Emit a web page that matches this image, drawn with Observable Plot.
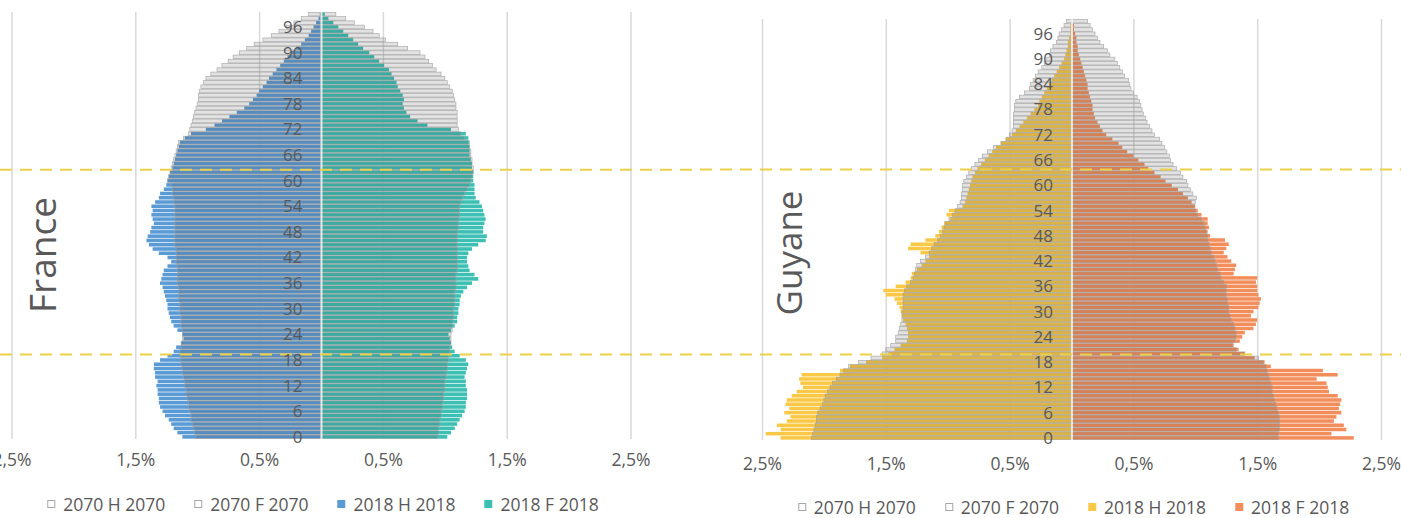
<!DOCTYPE html>
<html><head><meta charset="utf-8">
<script src="https://cdn.jsdelivr.net/npm/d3@7"></script>
<script src="https://cdn.jsdelivr.net/npm/@observablehq/plot@0.6"></script>
<style>
body{margin:0;background:#fff;width:1401px;height:518px;overflow:hidden;position:relative;font-family:"Open Sans",sans-serif;}
.panel{position:absolute;top:0;}
.legend{position:absolute;display:flex;gap:29px;transform:translateX(-50%);white-space:nowrap;font-size:17.5px;color:#595959;align-items:center;line-height:1.05;}
.legend .it{display:flex;align-items:center;gap:8px;}
.legend .sw{width:8px;height:8px;box-sizing:border-box;}
</style></head><body>
<div id="fr" class="panel" style="left:0;width:700px"></div>
<div id="gy" class="panel" style="left:700px;width:701px"></div>
<script>
// ---- data (share of population, %, by single year of age 0..99) ----
const ages = d3.range(0, 100);
const ageTicks = [0, 6, 12, 18, 24, 30, 36, 42, 48, 54, 60, 66, 72, 78, 84, 90, 96];
const xTicks = [-2.5, -1.5, -0.5, 0.5, 1.5, 2.5];
const legendLabels = ["2070 H 2070", "2070 F 2070", "2018 H 2018", "2018 F 2018"];

const franceH2018 = [
1.12,1.16,1.19,1.21,1.23,1.26,1.28,1.30,1.31,1.31,
1.32,1.32,1.33,1.32,1.34,1.34,1.35,1.35,1.30,1.24,
1.19,1.17,1.13,1.11,1.12,1.16,1.19,1.21,1.22,1.23,
1.24,1.24,1.25,1.26,1.27,1.28,1.30,1.29,1.28,1.27,
1.24,1.21,1.24,1.31,1.36,1.39,1.41,1.40,1.38,1.37,
1.35,1.36,1.37,1.36,1.37,1.34,1.31,1.30,1.27,1.25,
1.24,1.23,1.22,1.20,1.19,1.18,1.17,1.16,1.15,1.14,
1.10,1.05,0.93,0.86,0.80,0.74,0.68,0.62,0.58,0.55,
0.52,0.50,0.47,0.44,0.42,0.39,0.36,0.33,0.30,0.27,
0.24,0.20,0.16,0.13,0.10,0.08,0.06,0.04,0.02,0.01];
const franceH2070 = [
1.01,1.02,1.03,1.04,1.05,1.05,1.06,1.07,1.07,1.08,
1.09,1.09,1.10,1.10,1.11,1.12,1.12,1.13,1.13,1.14,
1.14,1.13,1.13,1.12,1.12,1.12,1.13,1.13,1.13,1.14,
1.14,1.14,1.15,1.15,1.15,1.15,1.16,1.16,1.16,1.16,
1.16,1.17,1.17,1.17,1.17,1.18,1.18,1.18,1.18,1.18,
1.18,1.18,1.18,1.18,1.18,1.19,1.19,1.20,1.20,1.21,
1.24,1.23,1.22,1.21,1.20,1.19,1.18,1.17,1.16,1.15,
1.11,1.07,1.06,1.05,1.04,1.03,1.02,1.01,1.00,0.99,
0.99,0.98,0.97,0.95,0.93,0.89,0.84,0.80,0.75,0.71,
0.66,0.60,0.54,0.47,0.40,0.34,0.28,0.22,0.16,0.10];
const franceF2018 = [
1.02,1.05,1.08,1.10,1.12,1.14,1.16,1.17,1.17,1.18,
1.18,1.18,1.17,1.17,1.16,1.17,1.18,1.19,1.17,1.12,
1.08,1.06,1.05,1.04,1.03,1.05,1.08,1.10,1.10,1.11,
1.11,1.12,1.12,1.13,1.15,1.18,1.22,1.27,1.24,1.20,
1.19,1.18,1.18,1.19,1.22,1.27,1.33,1.34,1.31,1.31,
1.32,1.33,1.32,1.31,1.30,1.28,1.25,1.24,1.24,1.24,
1.23,1.23,1.23,1.22,1.22,1.21,1.20,1.20,1.20,1.20,
1.19,1.17,1.05,0.86,0.78,0.72,0.69,0.67,0.66,0.67,
0.66,0.64,0.62,0.61,0.59,0.57,0.55,0.51,0.47,0.43,
0.39,0.34,0.30,0.26,0.22,0.18,0.14,0.10,0.06,0.03];
const franceF2070 = [
0.94,0.95,0.95,0.96,0.96,0.97,0.97,0.98,0.98,0.99,
0.99,1.00,1.00,1.00,1.01,1.01,1.02,1.02,1.03,1.03,
1.04,1.04,1.05,1.05,1.05,1.06,1.06,1.06,1.07,1.07,
1.07,1.08,1.08,1.08,1.08,1.09,1.09,1.09,1.09,1.10,
1.10,1.10,1.10,1.10,1.10,1.10,1.10,1.10,1.10,1.11,
1.11,1.11,1.12,1.12,1.12,1.13,1.14,1.16,1.18,1.20,
1.21,1.22,1.23,1.23,1.22,1.22,1.21,1.21,1.20,1.19,
1.16,1.13,1.11,1.10,1.10,1.10,1.10,1.09,1.09,1.08,
1.07,1.06,1.04,1.02,1.00,0.97,0.93,0.90,0.87,0.84,
0.80,0.70,0.62,0.52,0.47,0.42,0.35,0.27,0.20,0.12];

const guyaneH2018 = [
2.35,2.47,2.35,2.38,2.30,2.27,2.32,2.28,2.31,2.30,
2.26,2.22,2.17,2.19,2.20,2.18,1.87,1.79,1.66,1.53,
1.48,1.43,1.38,1.33,1.32,1.32,1.33,1.34,1.36,1.37,
1.38,1.39,1.41,1.43,1.50,1.52,1.42,1.34,1.30,1.29,
1.25,1.21,1.18,1.15,1.22,1.32,1.30,1.18,1.10,1.07,
1.05,1.03,0.98,1.01,0.99,0.88,0.86,0.85,0.84,0.83,
0.82,0.81,0.80,0.78,0.76,0.73,0.70,0.67,0.64,0.61,
0.57,0.53,0.48,0.45,0.42,0.39,0.36,0.33,0.30,0.27,
0.26,0.24,0.22,0.20,0.18,0.16,0.14,0.12,0.10,0.08,
0.06,0.05,0.04,0.03,0.03,0.02,0.01,0.01,0.01,0.00];
const guyaneH2070 = [
2.10,2.09,2.08,2.07,2.06,2.06,2.05,2.03,2.01,2.00,
1.99,1.97,1.95,1.93,1.90,1.87,1.84,1.80,1.72,1.62,
1.53,1.50,1.46,1.42,1.42,1.40,1.39,1.38,1.37,1.37,
1.37,1.36,1.36,1.36,1.36,1.35,1.33,1.30,1.28,1.27,
1.26,1.25,1.22,1.18,1.15,1.13,1.11,1.08,1.06,1.04,
1.03,1.02,0.99,0.96,0.94,0.92,0.90,0.89,0.89,0.88,
0.88,0.87,0.85,0.83,0.81,0.78,0.75,0.72,0.68,0.63,
0.57,0.53,0.50,0.48,0.47,0.47,0.47,0.47,0.46,0.46,
0.45,0.42,0.38,0.34,0.33,0.31,0.29,0.27,0.24,0.22,
0.20,0.18,0.17,0.15,0.12,0.11,0.10,0.08,0.06,0.04];
const guyaneF2018 = [
2.28,2.10,2.22,2.20,2.12,2.14,2.18,2.16,2.17,2.18,
2.15,2.08,2.07,2.06,1.98,2.15,2.03,1.61,1.56,1.48,
1.40,1.35,1.31,1.36,1.38,1.40,1.47,1.49,1.50,1.45,
1.47,1.51,1.52,1.53,1.51,1.50,1.50,1.49,1.50,1.31,
1.32,1.33,1.29,1.26,1.23,1.25,1.27,1.24,1.12,1.10,
1.11,1.10,1.10,1.05,1.02,1.00,0.97,0.94,0.90,0.86,
0.81,0.76,0.72,0.67,0.62,0.59,0.54,0.50,0.45,0.41,
0.38,0.33,0.28,0.25,0.23,0.21,0.19,0.18,0.17,0.17,
0.16,0.15,0.14,0.13,0.13,0.12,0.11,0.10,0.09,0.08,
0.07,0.06,0.05,0.05,0.04,0.04,0.03,0.02,0.02,0.01];
const guyaneF2070 = [
1.67,1.67,1.68,1.68,1.68,1.68,1.67,1.66,1.65,1.64,
1.63,1.62,1.62,1.61,1.60,1.59,1.58,1.57,1.55,1.51,
1.40,1.33,1.30,1.32,1.33,1.33,1.32,1.31,1.29,1.28,
1.27,1.27,1.26,1.26,1.25,1.25,1.25,1.23,1.21,1.20,
1.18,1.17,1.16,1.15,1.13,1.12,1.11,1.10,1.10,1.09,
1.08,1.07,1.05,1.02,1.00,0.99,1.00,1.01,0.98,0.96,
0.94,0.93,0.90,0.88,0.85,0.82,0.80,0.79,0.77,0.75,
0.73,0.71,0.67,0.65,0.63,0.61,0.60,0.58,0.57,0.56,
0.55,0.53,0.50,0.48,0.47,0.46,0.43,0.41,0.39,0.37,
0.35,0.31,0.29,0.26,0.23,0.21,0.19,0.17,0.15,0.13];

// ages marked by the dashed lines
const franceMarks = [19.4, 62.7];
const guyaneMarks = [19.9, 63.9];

// ---- drawing ----
const fmt = d => Math.abs(d).toFixed(1).replace(".", ",") + "%";

function rows(H, F) {
  return ages.flatMap((a, i) => [{age: a, lo: -H[i], hi: 0}, {age: a, lo: 0, hi: F[i]}].map((r, k) => ({...r, sex: k ? "F" : "H"})));
}

function pyramid(o) {
  const r18 = rows(o.H2018, o.F2018);
  const r70 = rows(o.H2070, o.F2070);
  return Plot.plot({
    width: o.width, height: 480,
    marginLeft: 0, marginRight: 0, marginTop: o.mt, marginBottom: o.mb,
    x: {domain: o.domain},
    y: {domain: [-0.5, 99.5], axis: null},
    style: {fontFamily: '"Open Sans", sans-serif', color: "#595959", background: "transparent", overflow: "visible"},
    marks: [
      Plot.ruleX(xTicks, {stroke: "#d9d9d9", strokeWidth: 1.5}),
      Plot.rect(r18, {x1: "lo", x2: "hi", y1: d => d.age - 0.42, y2: d => d.age + 0.42,
        fill: d => d.sex === "H" ? o.colH : o.colF}),
      Plot.rect(r70, {x1: "lo", x2: "hi", y1: d => d.age - 0.42, y2: d => d.age + 0.42,
        fill: "#3a3a3a", fillOpacity: 0.15, stroke: "#a0a0a0", strokeWidth: 0.7, strokeOpacity: 0.85}),
      Plot.ruleX([0], {stroke: "white", strokeWidth: 2, strokeOpacity: 0.75}),
      Plot.ruleY(o.marks, {stroke: "#ecd04a", strokeWidth: 2, strokeDasharray: "12,8"}),
      Plot.text(ageTicks, {x: () => 0, y: d => d, dx: -19, textAnchor: "end", fill: "#595959", fontSize: 17, fontFamily: '"Open Sans", sans-serif'}),
      Plot.axisX({ticks: xTicks, tickSize: 0, tickPadding: o.tp, tickFormat: fmt, fontSize: 17.5, fill: "#595959"}),
      Plot.text([o.name], {frameAnchor: "left", dx: o.tdx, dy: o.tdy, rotate: -90, textAnchor: "middle", lineAnchor: "middle",
        fontSize: o.tfs, fill: "#595959"})
    ]
  });
}

function legend(container, centerX, top, cols) {
  const lg = document.createElement("div");
  lg.className = "legend";
  lg.style.left = centerX + "px";
  lg.style.top = top + "px";
  legendLabels.forEach((lab, i) => {
    const it = document.createElement("div"); it.className = "it";
    const sw = document.createElement("div"); sw.className = "sw";
    if (i < 2) { sw.style.border = "1px solid #a6a6a6"; sw.style.background = "#fff"; }
    else sw.style.background = cols[i - 2];
    const t = document.createElement("span"); t.textContent = lab;
    it.append(sw, t); lg.append(it);
  });
  container.append(lg);
}

const fr = pyramid({name: "France", width: 700, domain: [-321 / 123.8, 379 / 123.8], mt: 12, mb: 41, tp: 14,
  H2018: franceH2018, F2018: franceF2018, H2070: franceH2070, F2070: franceF2070,
  colH: "#5b9bd5", colF: "#3dbfb3", marks: franceMarks, tdx: 44, tdy: 29, tfs: 37});
document.getElementById("fr").append(fr);
legend(document.getElementById("fr"), fr.scale("x").apply(0) + 2, 495, ["#5b9bd5", "#3dbfb3"]);

const gy = pyramid({name: "Guyane", width: 701, domain: [-371.5 / 123.8, 329.5 / 123.8], mt: 19, mb: 40, tp: 17,
  H2018: guyaneH2018, F2018: guyaneF2018, H2070: guyaneH2070, F2070: guyaneF2070,
  colH: "#f9c846", colF: "#f28e5c", marks: guyaneMarks, tdx: 90, tdy: 23, tfs: 35});
document.getElementById("gy").append(gy);
legend(document.getElementById("gy"), gy.scale("x").apply(0) + 2, 498, ["#f9c846", "#f28e5c"]);
</script>
</body></html>
